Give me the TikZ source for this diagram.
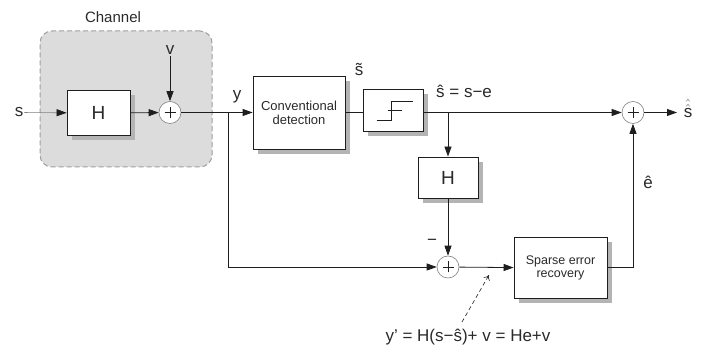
\documentclass[tikz,border=0pt]{standalone}
\usepackage{fontspec}
\setmainfont{Liberation Sans}
\usetikzlibrary{arrows.meta,shadows}
\definecolor{txt}{HTML}{2A2A2A}
\definecolor{shade}{HTML}{B4B4B4}
\definecolor{chanfill}{HTML}{DCDCDC}
\definecolor{chanline}{HTML}{A0A0A0}
\definecolor{ln}{HTML}{1E1E1E}
\newcommand{\fs}[1]{\fontsize{#1}{#1}\selectfont}
\begin{document}
\begin{tikzpicture}[x=1pt,y=-1pt,
  every node/.style={text=txt},
  blk/.style={draw=ln, fill=white, line width=0.8pt, align=center, inner sep=0pt,
    drop shadow={shadow xshift=5pt, shadow yshift=-5pt, fill=shade, opacity=1}},
  sumnode/.style={circle, draw=gray, fill=white, minimum size=22pt, inner sep=0pt, line width=0.6pt,
    path picture={\draw[ln, line width=0.7pt]
      ([xshift=-5.5pt]path picture bounding box.center) -- ([xshift=5.5pt]path picture bounding box.center)
      ([yshift=-5.5pt]path picture bounding box.center) -- ([yshift=5.5pt]path picture bounding box.center);}},
  lbl/.style={font=\fs{17}, inner sep=1pt},
  arr/.style={draw=ln, line width=0.8pt, -{Triangle[length=10pt,width=7pt,color=ln]}},
  plain/.style={draw=ln, line width=0.8pt},
  chanbox/.style={draw=chanline, fill=chanfill, line width=1pt, dash pattern=on 5pt off 3pt,
    rounded corners=12pt, minimum width=172pt, minimum height=136pt}]
\useasboundingbox (0,0) rectangle (705,352);

% channel region
\node[chanbox] (chan) at (126,99) {};
\node[font=\fs{15}] (chanlbl) at (113,17) {Channel};

% nodes
\node[lbl] (s) at (19,112.5) {s};
\node[blk, minimum width=63pt, minimum height=45pt, font=\fs{19}] (H1) at (98.5,113) {H};
\node[sumnode] (sum1) at (170,112.5) {};
\node[lbl] (v) at (170,50) {v};
\node[blk, minimum width=92pt, minimum height=73pt, font=\fs{13}] (CD) at (299,112.5) {Conventional\\[1pt]detection};
\node[blk, minimum width=60pt, minimum height=42pt] (Q) at (393,110.5) {};
\node[blk, minimum width=60pt, minimum height=41pt, font=\fs{19}] (H2) at (448,177.5) {H};
\node[sumnode] (sum2) at (633,112.5) {};
\node[sumnode] (sum3) at (448,267) {};
\node[blk, minimum width=93pt, minimum height=61pt, font=\fs{12.5}] (SER) at (560.5,268) {Sparse error\\[1pt]recovery};

\coordinate (b1) at (228,112.5);
\coordinate (b2) at (448,112.5);
\coordinate (out) at (677,112.5);

% labels
\node[lbl] (ylbl) at (237,97) {y};
\node[lbl] (stil) at (359,69) {\~{s}};
\node[lbl, anchor=west] (shat) at (435,91) {ŝ = s−e};
\node[lbl, anchor=base] (shh) at (688,118) {$\hat{\hat{\mbox{s}}}$};
\node[lbl] (ehat) at (648,182) {ê};
\node[lbl] (minus) at (432,242) {−};
\node[lbl] (ypr) at (468,337) {y’ = H(s−ŝ)+ v = He+v};
\coordinate (da) at (462,322);
\coordinate (db) at (489,275);

% step symbol in quantizer
\draw[ln, line width=0.8pt] ([shift={(-16.3,9.5)}]Q.center) -- ([shift={(-2,9.5)}]Q.center)
  -- ([shift={(-2,-9.5)}]Q.center) -- ([shift={(19.7,-9.5)}]Q.center);
\draw[ln, line width=0.8pt] ([shift={(-5.5,0)}]Q.center) -- ([shift={(8.7,0)}]Q.center);

% connectors
\draw[arr, draw=gray, line width=0.6pt] (s) -- (H1);
\draw[arr] (H1) -- (sum1);
\draw[arr] (v) -- (sum1);
\draw[arr] (sum1) -- (CD);
\draw[plain] (CD.east) -- (CD.east -| Q.west);
\draw[plain] (Q.east |- sum2) -- (b2);
\draw[arr] (b2) -- (sum2);
\draw[arr] (sum2) -- (out);
\draw[arr] (b2) -- (H2);
\draw[arr] (H2) -- (sum3);
\draw[arr] (b1) |- (sum3);
\draw[arr] (sum3) -- (SER);
\draw[arr] (SER.east |- sum3) -| (sum2);
\draw[draw=ln, line width=0.6pt, dash pattern=on 4pt off 3pt, -{To[length=5pt,width=7pt]}] (da) -- (db);
\end{tikzpicture}
\end{document}
